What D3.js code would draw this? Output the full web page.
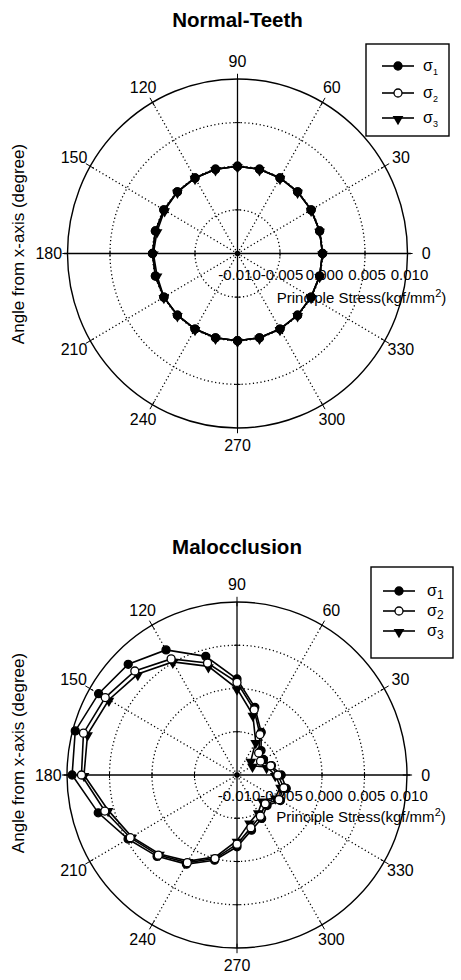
<!DOCTYPE html>
<html>
<head>
<meta charset="utf-8">
<script src="https://cdn.jsdelivr.net/npm/d3@7"></script>
<style>
  body { margin: 0; background: white; }
  text { font-family: "Liberation Sans", Arial, sans-serif; fill: black; }
</style>
</head>
<body>
<svg id="chart" width="461" height="980"></svg>
<script>
// angles in degrees, one point every 15 degrees
let angles = [0, 15, 30, 45, 60, 75, 90, 105, 120, 135, 150, 165,
              180, 195, 210, 225, 240, 255, 270, 285, 300, 315, 330, 345];
let angleTicks = [0, 30, 60, 90, 120, 150, 180, 210, 240, 270, 300, 330];
let stressTicks = [-0.010, -0.005, 0.000, 0.005, 0.010];
let seriesNames = ["1", "2", "3"];

// Normal-Teeth (kgf/mm^2)
let normalS1 = [0, 0, 0, 0, 0, 0, 0, 0, 0, 0, 0, 0,
                0, 0, 0, 0, 0, 0, 0, 0, 0, 0, 0, 0];
let normalS2 = [0, 0, 0, 0, 0, 0, 0, 0, 0, 0, 0, 0,
                0, 0, 0, 0, 0, 0, 0, 0, 0, 0, 0, 0];
let normalS3 = [0, 0, 0, 0, 0, 0, 0, 0, 0, 0, -0.0001, -0.0002,
                -0.0001, -0.0002, 0, 0, 0, 0, 0, 0, 0, 0, 0, 0];

// Malocclusion (kgf/mm^2)
let malS1 = [-0.0048, -0.0058, -0.0064, -0.0060, -0.0043, -0.0019, 0.0011, 0.0042,
             0.0067, 0.0081, 0.0088, 0.0097, 0.0094, 0.0069, 0.0048, 0.0033,
             0.0019, 0.0002, -0.0017, -0.0034, -0.0042, -0.0050, -0.0041, -0.0040];
let malS2 = [-0.0052, -0.0059, -0.0068, -0.0064, -0.0046, -0.0022, 0.0007, 0.0034,
             0.0055, 0.0070, 0.0079, 0.0087, 0.0083, 0.0061, 0.0045, 0.0031,
             0.0017, 0.0000, -0.0020, -0.0037, -0.0045, -0.0053, -0.0043, -0.0043];
let malS3 = [-0.0055, -0.0064, -0.0079, -0.0077, -0.0056, -0.0028, 0.0000, 0.0030,
             0.0051, 0.0065, 0.0074, 0.0082, 0.0080, 0.0057, 0.0043, 0.0029,
             0.0015, -0.0002, -0.0024, -0.0043, -0.0050, -0.0058, -0.0048, -0.0047];

let svg = d3.select("#chart");

function drawPolar(o) {
  let g = svg.append("g");
  let rScale = d3.scaleLinear().domain([-0.010, 0.010]).range([0, 1]);
  let px = (a, v) => o.cx + rScale(v) * o.rx * Math.cos(a * Math.PI / 180);
  let py = (a, v) => o.cy - rScale(v) * o.ry * Math.sin(a * Math.PI / 180);

  // dotted rings
  g.selectAll(".ring")
    .data(stressTicks.slice(1, 4))
    .enter().append("ellipse")
    .attr("cx", o.cx).attr("cy", o.cy)
    .attr("rx", d => rScale(d) * o.rx)
    .attr("ry", d => rScale(d) * o.ry)
    .attr("fill", "none").attr("stroke", "black")
    .attr("stroke-width", 1.3).attr("stroke-dasharray", "1.2,2.6");

  // dotted spokes
  g.selectAll(".spoke")
    .data(angleTicks.filter(a => a % 90 != 0))
    .enter().append("line")
    .attr("x1", o.cx).attr("y1", o.cy)
    .attr("x2", d => px(d, 0.010)).attr("y2", d => py(d, 0.010))
    .attr("stroke", "black").attr("stroke-width", 1.3)
    .attr("stroke-dasharray", "1.2,2.6");

  // outer ring
  g.append("ellipse")
    .attr("cx", o.cx).attr("cy", o.cy)
    .attr("rx", o.rx).attr("ry", o.ry)
    .attr("fill", "none").attr("stroke", "black").attr("stroke-width", 1.4);

  // solid axes
  g.append("line")
    .attr("x1", o.cx - o.rx * 1.02).attr("x2", o.cx + o.rx * 1.02)
    .attr("y1", o.cy).attr("y2", o.cy)
    .attr("stroke", "black").attr("stroke-width", 1.3);
  g.append("line")
    .attr("x1", o.cx).attr("x2", o.cx)
    .attr("y1", o.cy - o.ry).attr("y2", o.cy + o.ry)
    .attr("stroke", "black").attr("stroke-width", 1.3);

  // small ticks on axes at ring crossings
  for (let a of [0, 90, 180, 270]) {
    for (let v of stressTicks.slice(1, 4)) {
      let x = px(a, v), y = py(a, v);
      let horiz = (a % 180 == 0);
      g.append("line")
        .attr("x1", horiz ? x : x - 3).attr("x2", horiz ? x : x + 3)
        .attr("y1", horiz ? y - 3 : y).attr("y2", horiz ? y + 3 : y)
        .attr("stroke", "black").attr("stroke-width", 1);
    }
  }

  // ticks on outer ring
  g.selectAll(".otick")
    .data(angleTicks)
    .enter().append("line")
    .attr("x1", d => o.cx + 0.975 * o.rx * Math.cos(d * Math.PI / 180))
    .attr("y1", d => o.cy - 0.975 * o.ry * Math.sin(d * Math.PI / 180))
    .attr("x2", d => o.cx + 1.03 * o.rx * Math.cos(d * Math.PI / 180))
    .attr("y2", d => o.cy - 1.03 * o.ry * Math.sin(d * Math.PI / 180))
    .attr("stroke", "black").attr("stroke-width", 1);

  // angle labels
  g.selectAll(".alabel")
    .data(angleTicks)
    .enter().append("text")
    .attr("x", d => o.cx + 1.11 * o.rx * Math.cos(d * Math.PI / 180))
    .attr("y", d => o.cy - 1.1 * o.ry * Math.sin(d * Math.PI / 180))
    .attr("dy", "0.35em")
    .attr("text-anchor", "middle")
    .attr("font-size", 16)
    .text(d => d);

  // radial tick labels
  g.selectAll(".rlabel")
    .data(stressTicks)
    .enter().append("text")
    .attr("x", d => o.cx + rScale(d) * o.rx + 2)
    .attr("y", o.cy + 26)
    .attr("text-anchor", "middle")
    .attr("font-size", 15)
    .text(d => d3.format(".3f")(d).replace("−", "-"));

  let lab = g.append("text")
    .attr("x", o.cx + 124).attr("y", o.cy + o.labDy)
    .attr("text-anchor", "middle").attr("font-size", 15)
    .text("Principle Stress(kgf/mm");
  lab.append("tspan").attr("dy", -6).attr("font-size", 11).text("2");
  lab.append("tspan").attr("dy", 6).text(")");

  // y title
  g.append("text")
    .attr("transform", `translate(${o.yLabX},${o.yLabY}) rotate(-90)`)
    .attr("text-anchor", "middle").attr("font-size", 17)
    .text("Angle from x-axis (degree)");

  // title
  g.append("text")
    .attr("x", o.cx).attr("y", o.titleY)
    .attr("text-anchor", "middle").attr("font-size", 20.5)
    .attr("font-weight", "bold")
    .text(o.title);

  // data
  let line = d3.line()
    .x(d => px(d[0], d[1]))
    .y(d => py(d[0], d[1]));
  let tri = d3.symbol().type(d3.symbolTriangle).size(50);

  for (let i of o.order) {
    let pts = angles.map((a, k) => [a, o.series[i][k]]);
    g.append("path")
      .datum(pts.concat([pts[0]]))
      .attr("d", line)
      .attr("fill", "none").attr("stroke", "black").attr("stroke-width", 1.6);
    drawMarkers(g, pts.map(p => [px(p[0], p[1]), py(p[0], p[1])]), i, tri);
  }

  // centre dot
  g.append("circle").attr("cx", o.cx).attr("cy", o.cy).attr("r", 2.8)
    .attr("fill", "black");

  // legend
  let lg = g.append("g");
  lg.append("rect")
    .attr("x", o.leg.x).attr("y", o.leg.y)
    .attr("width", o.leg.w).attr("height", o.leg.h)
    .attr("fill", "white").attr("stroke", "black").attr("stroke-width", 1.4);
  seriesNames.forEach((s, i) => {
    let y = o.leg.rows[i];
    lg.append("line")
      .attr("x1", o.leg.lx1).attr("x2", o.leg.lx2)
      .attr("y1", y).attr("y2", y)
      .attr("stroke", "black").attr("stroke-width", 1.6);
    drawMarkers(lg, [[(o.leg.lx1 + o.leg.lx2) / 2, y]], i, tri);
    let t = lg.append("text")
      .attr("x", o.leg.tx).attr("y", y + 5)
      .attr("font-family", "'DejaVu Serif', 'Liberation Serif', serif")
      .attr("font-size", 16).text("σ");
    t.append("tspan").attr("dy", o.leg.subDy).attr("font-size", o.leg.subSize).text(s);
  });
}

function drawMarkers(g, xy, i, tri) {
  if (i == 2) {
    g.selectAll(null).data(xy).enter().append("path")
      .attr("d", tri)
      .attr("transform", d => `translate(${d[0]},${d[1] + 1}) rotate(180)`)
      .attr("fill", "black");
  } else {
    g.selectAll(null).data(xy).enter().append("circle")
      .attr("cx", d => d[0]).attr("cy", d => d[1]).attr("r", 4)
      .attr("fill", i == 0 ? "black" : "white")
      .attr("stroke", "black").attr("stroke-width", 1.3);
  }
}

drawPolar({
  cx: 237.5, cy: 253.5, rx: 170, ry: 174.5,
  title: "Normal-Teeth", titleY: 27, labDy: 49,
  yLabX: 24, yLabY: 244,
  series: [normalS1, normalS2, normalS3], order: [2, 1, 0],
  leg: { x: 366, y: 44, w: 83, h: 92, rows: [66, 93, 118],
         lx1: 382, lx2: 414, tx: 423, subDy: 4, subSize: 9 }
});

drawPolar({
  cx: 237, cy: 775, rx: 170, ry: 173,
  title: "Malocclusion", titleY: 554, labDy: 47,
  yLabX: 24, yLabY: 753,
  series: [malS1, malS2, malS3], order: [2, 0, 1],
  leg: { x: 371, y: 567, w: 82, h: 91, rows: [591, 611, 631],
         lx1: 383, lx2: 415, tx: 427, subDy: 3, subSize: 12 }
});
</script>
</body>
</html>
